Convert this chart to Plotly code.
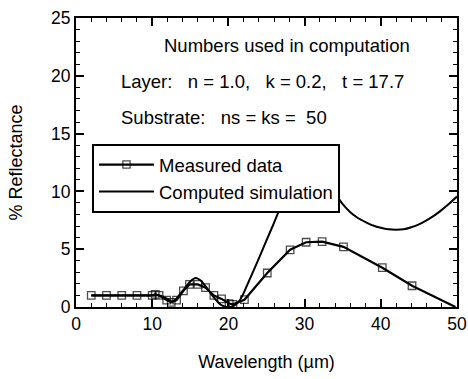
import plotly.graph_objects as go

# Measured data (wavelength um, % reflectance)
meas_x = [2, 4, 6, 8, 10, 10.4, 10.9, 11.9, 12.5, 13.2, 14.1, 14.9, 16.0, 17.0, 18.1, 19.1, 20.1, 20.6, 22.1, 25.1, 28.1, 30.2, 32.3, 35.1, 40.2, 44.1, 49.8]
meas_y = [1.0, 1.0, 1.0, 1.0, 1.0, 1.1, 1.0, 0.6, 0.4, 0.6, 1.4, 1.95, 1.95, 1.67, 1.0, 0.7, 0.3, 0.23, 0.63, 2.94, 4.95, 5.6, 5.65, 5.2, 3.4, 1.84, 0.0]

# Computed simulation
sim_x = [2, 4, 6, 8, 10, 11, 12, 12.5, 13, 14, 15, 15.7, 16.5, 17, 18, 19, 19.5, 20, 20.5, 21, 21.5, 22, 23, 24, 25, 26, 27, 28, 30, 32, 34, 35, 36, 37, 38, 39, 40, 41, 42, 43, 44, 45, 46, 47, 48, 49, 50]
sim_y = [1.0, 1.0, 1.0, 1.0, 1.0, 1.0, 0.7, 0.5, 0.6, 1.4, 2.2, 2.5, 2.2, 1.8, 0.9, 0.2, 0.05, 0.0, 0.05, 0.25, 0.58, 1.2, 2.7, 4.2, 5.76, 7.3, 8.9, 10.2, 11.3, 11.1, 9.8, 8.9, 8.2, 7.7, 7.35, 7.05, 6.85, 6.72, 6.68, 6.72, 6.9, 7.15, 7.5, 7.9, 8.4, 8.95, 9.55]

x_ticks = [0, 10, 20, 30, 40, 50]
y_ticks = [0, 5, 10, 15, 20, 25]

FONT = "Liberation Sans, Arial, sans-serif"
SP = "\u00a0"

fig = go.Figure()
fig.add_trace(go.Scatter(
    x=meas_x, y=meas_y, mode="lines+markers", name="Measured data",
    line=dict(color="black", width=2.2),
    marker=dict(symbol="square-open", size=[7.5] * (len(meas_x) - 1) + [0], color="black",
                line=dict(width=1.3, color="black")),
))
fig.add_trace(go.Scatter(
    x=sim_x, y=sim_y, mode="lines", name="Computed simulation",
    line=dict(color="black", width=2, shape="spline", smoothing=0.6),
))

axis_common = dict(
    showline=True, linecolor="black", linewidth=2, mirror="ticks",
    ticks="inside", ticklen=8, tickwidth=1.5, tickcolor="black",
    showgrid=False, zeroline=False, automargin=False,
    tickfont=dict(size=17.5, color="black", family=FONT),
)
fig.update_xaxes(range=[0, 50], tickvals=x_ticks,
                 minor=dict(dtick=2, ticks="inside", ticklen=4, tickwidth=1.2, tickcolor="black"),
                 title=dict(text="Wavelength (µm)", font=dict(size=18, color="black", family=FONT), standoff=22),
                 **axis_common)
fig.update_yaxes(range=[0, 25], tickvals=y_ticks,
                 minor=dict(dtick=1, ticks="inside", ticklen=4, tickwidth=1.2, tickcolor="black"),
                 title=dict(text="% Reflectance", font=dict(size=18, color="black", family=FONT), standoff=24),
                 **axis_common)

fig.add_annotation(x=0.554, y=0.905, xref="paper", yref="paper", text="Numbers used in computation",
                   showarrow=False, xanchor="center", yanchor="middle",
                   font=dict(size=18.5, color="black", family=FONT))
fig.add_annotation(x=0.112, y=0.78, xref="paper", yref="paper",
                   text=f"Layer:{SP*3}n = 1.0,{SP*3}k = 0.2,{SP*3}t = 17.7",
                   showarrow=False, xanchor="left", yanchor="middle",
                   font=dict(size=18.5, color="black", family=FONT))
fig.add_annotation(x=0.112, y=0.655, xref="paper", yref="paper",
                   text=f"Substrate:{SP*3}ns = ks = {SP}50",
                   showarrow=False, xanchor="left", yanchor="middle",
                   font=dict(size=18.5, color="black", family=FONT))

fig.update_layout(
    width=468, height=379,
    margin=dict(l=76, r=11, t=18, b=72),
    paper_bgcolor="white", plot_bgcolor="white",
    showlegend=True,
    legend=dict(x=0.042, y=0.564, xanchor="left", yanchor="top",
                bgcolor="white", bordercolor="black", borderwidth=2,
                font=dict(size=18.5, color="black", family=FONT),
                tracegroupgap=0, itemwidth=55),
    font=dict(family=FONT, color="black"),
)

fig.write_html("out.html")
